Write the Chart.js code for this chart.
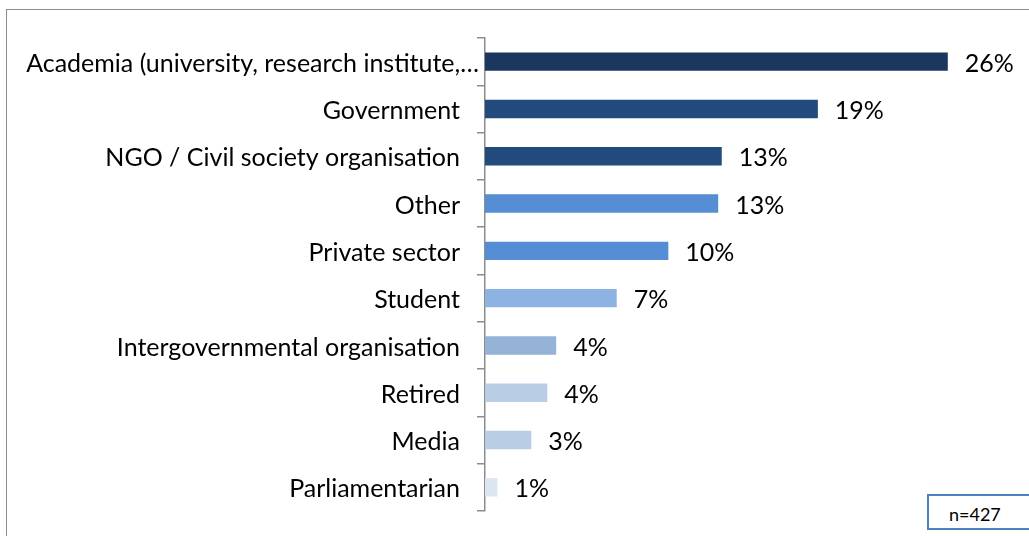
<!DOCTYPE html>
<html>
<head>
<meta charset="utf-8">
<script src="https://cdn.jsdelivr.net/npm/chart.js@4.4.0/dist/chart.umd.min.js"></script>
<style>
    html, body { margin: 0; padding: 0; background: #fff; }
    #wrap { position: relative; width: 1029px; height: 536px; overflow: hidden; }
    #frame { position: absolute; left: 6px; top: 9px; width: 1100px; height: 600px; border: 1.5px solid #8c8c8c; box-sizing: border-box; }
    #nbox { position: absolute; left: 927px; top: 494px; width: 140px; height: 36px; border: 2px solid #4f81bd; box-sizing: border-box;
            font-family: Lato, sans-serif; font-size: 18px; padding: 7px 0 0 20px; color: #000; background: #fff; }
    canvas { position: absolute; left: 0; top: 0; }
</style>
</head>
<body>
<div id="wrap">
    <div id="frame"></div>
    <canvas id="chart" width="1029" height="536"></canvas>
    <div id="nbox">n=427</div>
</div>
<script>
// datos
const categorias = [
    'Academia (university, research institute,…',
    'Government',
    'NGO / Civil society organisation',
    'Other',
    'Private sector',
    'Student',
    'Intergovernmental organisation',
    'Retired',
    'Media',
    'Parliamentarian'
];
const valores = [26.0, 18.7, 13.3, 13.1, 10.3, 7.4, 4.0, 3.5, 2.6, 0.7];
const etiquetas = ['26%', '19%', '13%', '13%', '10%', '7%', '4%', '4%', '3%', '1%'];
const colores = ['#1b375f', '#224a7c', '#224a7c', '#558ed5', '#558ed5', '#8db3e2', '#95b3d7', '#b9cde5', '#b9cde5', '#dce6f2'];

const fuente = 'Lato, sans-serif';

// textos: categorias a la izquierda del eje y valores a la derecha de cada barra
const textosPlugin = {
    id: 'textos',
    afterDatasetsDraw(chart) {
        const ctx = chart.ctx;
        const meta = chart.getDatasetMeta(0);
        const y = chart.scales.y;
        ctx.save();
        ctx.font = '25px ' + fuente;
        ctx.fillStyle = '#000';
        ctx.textBaseline = 'middle';
        // categorias (la primera, recortada, llega casi hasta el eje como en Excel)
        ctx.textAlign = 'right';
        categorias.forEach((c, i) => {
            const xFin = i === 0 ? y.right - 6 : y.right - 25;
            ctx.fillText(c, xFin, y.getPixelForTick(i) + 2);
        });
        ctx.textAlign = 'left';
        meta.data.forEach((bar, i) => {
            ctx.fillText(etiquetas[i], bar.x + 17, bar.y + 2);
        });
        ctx.restore();
    }
};

const ctx = document.getElementById('chart').getContext('2d');
new Chart(ctx, {
    type: 'bar',
    data: {
        labels: categorias,
        datasets: [{
            data: valores,
            backgroundColor: colores,
            barPercentage: 0.39,
            categoryPercentage: 1
        }]
    },
    options: {
        indexAxis: 'y',
        responsive: false,
        animation: false,
        layout: { padding: { left: 0, right: 10, top: 38, bottom: 25 } },
        plugins: { legend: { display: false }, tooltip: { enabled: false } },
        scales: {
            x: { display: false, min: 0, max: 30 },
            y: {
                afterFit: (scale) => { scale.width = 485; },
                grid: { drawOnChartArea: false, tickLength: 8, color: '#8c8c8c', lineWidth: 1.5 },
                border: { color: '#8c8c8c', width: 1.5 },
                ticks: { display: false, autoSkip: false }
            }
        }
    },
    plugins: [textosPlugin]
});
</script>
</body>
</html>
